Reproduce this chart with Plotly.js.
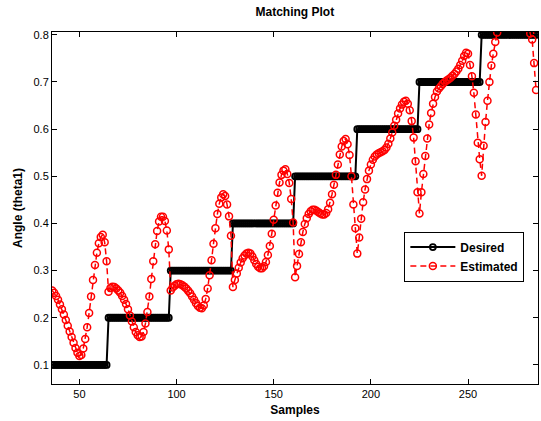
<!DOCTYPE html>
<html>
<head>
<meta charset="utf-8">
<script src="https://cdn.plot.ly/plotly-3.0.1.min.js"></script>
<style>html,body{margin:0;padding:0;background:#fff;}#chart{width:541px;height:421px;}</style>
</head>
<body>
<div id="chart"></div>
<script>
// Sample indices shown
var firstSample = 36;
var lastSample = 285;

// Desired (reference) step levels and the sample where each level starts
var desiredLevels = [0.1, 0.2, 0.3, 0.4, 0.5, 0.6, 0.7, 0.8];
var levelStarts   = [36, 65, 97, 129, 161, 193, 225, 257];

// Estimated angle, one array per desired level
var est1 = [0.258,0.253,0.246,0.238,0.228,0.218,0.207,0.195,0.183,0.171,0.159,0.147,0.136,0.126,0.119,0.121,0.135,0.155,0.180,0.210,0.245,0.280,0.312,0.338,0.358,0.371,0.376,0.360,0.320];
var est2 = [0.255,0.263,0.266,0.265,0.262,0.258,0.253,0.246,0.238,0.229,0.218,0.205,0.192,0.180,0.170,0.163,0.159,0.160,0.170,0.188,0.212,0.245,0.282,0.320,0.356,0.384,0.404,0.414,0.414,0.405,0.385,0.345];
var est3 = [0.258,0.264,0.268,0.271,0.272,0.271,0.269,0.266,0.262,0.257,0.252,0.245,0.238,0.231,0.225,0.221,0.220,0.226,0.240,0.262,0.290,0.322,0.357,0.390,0.420,0.442,0.455,0.462,0.458,0.440,0.415,0.374];
var est4 = [0.265,0.280,0.294,0.306,0.317,0.326,0.332,0.336,0.338,0.336,0.330,0.322,0.314,0.308,0.305,0.305,0.309,0.318,0.333,0.352,0.378,0.408,0.438,0.465,0.487,0.503,0.512,0.515,0.505,0.486,0.452,0.402];
var est5 = [0.286,0.310,0.335,0.360,0.382,0.399,0.411,0.420,0.426,0.429,0.429,0.427,0.424,0.421,0.419,0.419,0.422,0.430,0.444,0.462,0.482,0.503,0.525,0.546,0.563,0.575,0.579,0.568,0.545,0.500,0.440,0.390];
var est6 = [0.336,0.370,0.410,0.445,0.472,0.494,0.512,0.525,0.535,0.542,0.546,0.549,0.551,0.553,0.556,0.561,0.569,0.580,0.593,0.607,0.620,0.633,0.644,0.652,0.658,0.660,0.654,0.640,0.617,0.582,0.532,0.466];
var est7 = [0.421,0.466,0.505,0.543,0.580,0.610,0.634,0.654,0.668,0.680,0.686,0.691,0.696,0.700,0.703,0.706,0.709,0.713,0.717,0.722,0.728,0.736,0.745,0.755,0.762,0.760,0.736,0.712,0.677,0.631,0.571,0.536];
var est8 = [0.501,0.565,0.615,0.660,0.700,0.735,0.760,0.785,0.805,0.828,0.845,0.857,0.865,0.869,0.870,0.868,0.864,0.858,0.851,0.845,0.840,0.836,0.834,0.832,0.826,0.803,0.790,0.740,0.683];

var xTicks = [50, 100, 150, 200, 250];
var yTicks = [0.1, 0.2, 0.3, 0.4, 0.5, 0.6, 0.7, 0.8];

// Build series
var samples = [];
for (var s = firstSample; s <= lastSample; s++) samples.push(s);
var desired = samples.map(function (s) {
  var k = 0;
  for (var i = 0; i < levelStarts.length; i++) if (s >= levelStarts[i]) k = i;
  return desiredLevels[k];
});
var estimated = [].concat(est1, est2, est3, est4, est5, est6, est7, est8);

var font = 'Liberation Sans, Arial, Helvetica, sans-serif';

var traces = [
  {
    x: samples, y: desired, name: 'Desired', type: 'scatter', mode: 'lines+markers',
    line: {color: '#000000', width: 2},
    marker: {symbol: 'circle-open', size: 6, color: '#000000', line: {color: '#000000', width: 1.8}}
  },
  {
    x: samples.slice(0, estimated.length), y: estimated, name: 'Estimated', type: 'scatter', mode: 'lines+markers',
    line: {color: '#ff0000', width: 1.5, dash: '6px,4px'},
    marker: {symbol: 'circle-open', size: 7, color: '#ff0000', line: {color: '#ff0000', width: 1.5}}
  }
];

var layout = {
  width: 541, height: 421, autosize: false,
  paper_bgcolor: '#ffffff', plot_bgcolor: '#ffffff',
  margin: {l: 52, r: 3, t: 32, b: 37, pad: 0},
  font: {family: font, size: 11, color: '#000000'},
  title: {text: '<b>Matching Plot</b>', font: {family: font, size: 12, color: '#000000'},
          x: 0.545, xanchor: 'center', y: 0.972, yanchor: 'middle', yref: 'container'},
  xaxis: {
    range: [35.9, 286], tickvals: xTicks, ticktext: xTicks.map(String),
    ticks: 'inside', ticklen: 5, tickwidth: 1, tickcolor: '#000000',
    showline: true, linecolor: '#000000', linewidth: 1, mirror: 'ticks',
    showgrid: false, zeroline: false,
    tickfont: {family: font, size: 11, color: '#000000'},
    title: {text: '<b>Samples</b>', font: {family: font, size: 12, color: '#000000'}, standoff: 6}
  },
  yaxis: {
    range: [0.0595, 0.806], tickvals: yTicks, ticktext: yTicks.map(function (v) { return v.toFixed(1); }),
    ticks: 'inside', ticklen: 5, tickwidth: 1, tickcolor: '#000000',
    showline: true, linecolor: '#000000', linewidth: 1, mirror: 'ticks',
    showgrid: false, zeroline: false,
    tickfont: {family: font, size: 11, color: '#000000'},
    title: {text: '<b>Angle (theta1)</b>', font: {family: font, size: 12, color: '#000000'}, standoff: 8}
  },
  showlegend: true,
  legend: {
    x: 0.725, xanchor: 'left', y: 0.433, yanchor: 'top',
    bgcolor: '#ffffff', bordercolor: '#000000', borderwidth: 1,
    font: {family: font, size: 12, color: '#000000', weight: 'bold'},
    itemwidth: 45, tracegroupgap: 0
  }
};

Plotly.newPlot('chart', traces, layout, {displayModeBar: false, staticPlot: true});
</script>
</body>
</html>
